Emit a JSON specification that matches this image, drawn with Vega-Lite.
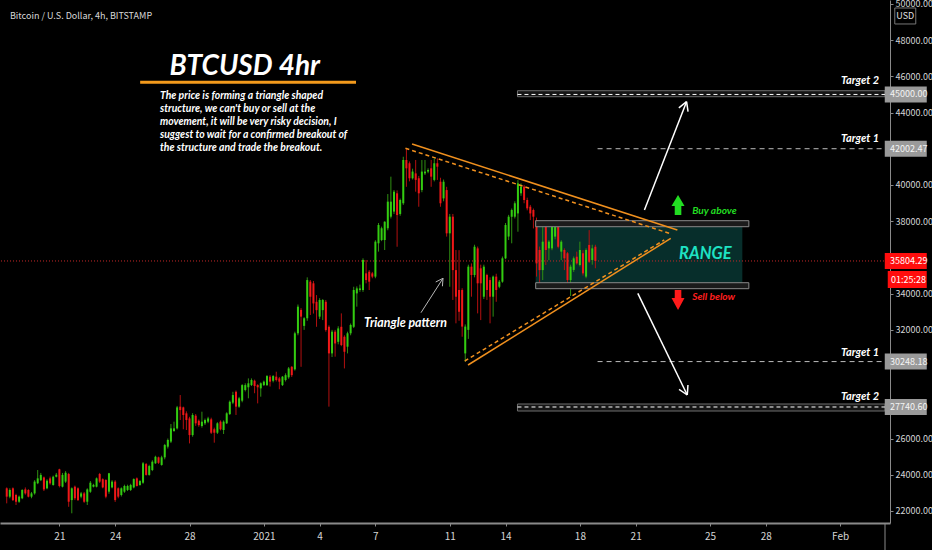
{
"$schema":"https://vega.github.io/schema/vega-lite/v6.json",
"width":890,"height":523,"autosize":"none",
"padding":{"left":0,"top":0,"right":42,"bottom":27},
"background":"#000000",
"config":{"view":{"stroke":null},"axis":{"grid":false}},
"datasets":{"candles":[
{"t":18.167,"o":23250,"h":23300,"l":22420,"c":22790},
{"t":18.333,"o":22790,"h":23250,"l":22700,"c":23160},
{"t":18.5,"o":23250,"h":23300,"l":22550,"c":22600},
{"t":18.667,"o":22880,"h":22950,"l":22330,"c":22510},
{"t":18.833,"o":22510,"h":22850,"l":22450,"c":22790},
{"t":19,"o":22700,"h":23200,"l":22650,"c":23160},
{"t":19.167,"o":23190,"h":23300,"l":22900,"c":22970},
{"t":19.333,"o":23160,"h":23200,"l":22750,"c":22790},
{"t":19.5,"o":22790,"h":23050,"l":22700,"c":22970},
{"t":19.667,"o":22970,"h":23700,"l":22900,"c":23620},
{"t":19.833,"o":23530,"h":24260,"l":23480,"c":23800},
{"t":20,"o":23700,"h":24100,"l":23650,"c":23990},
{"t":20.167,"o":23850,"h":23900,"l":23100,"c":23190},
{"t":20.333,"o":23250,"h":23750,"l":23200,"c":23670},
{"t":20.5,"o":23800,"h":23900,"l":23450,"c":23525},
{"t":20.667,"o":23430,"h":23950,"l":23400,"c":23890},
{"t":20.833,"o":23890,"h":24100,"l":23850,"c":24000},
{"t":21,"o":24300,"h":24330,"l":23300,"c":23380},
{"t":21.167,"o":23340,"h":24100,"l":23300,"c":23990},
{"t":21.333,"o":23620,"h":24200,"l":23550,"c":24110},
{"t":21.5,"o":24040,"h":24100,"l":22230,"c":22510},
{"t":21.667,"o":22600,"h":23300,"l":21870,"c":23250},
{"t":21.833,"o":23340,"h":23400,"l":22600,"c":22700},
{"t":22,"o":23250,"h":23300,"l":22550,"c":22600},
{"t":22.167,"o":22790,"h":23050,"l":22700,"c":22970},
{"t":22.333,"o":22970,"h":23050,"l":22450,"c":22510},
{"t":22.5,"o":22510,"h":23250,"l":22330,"c":23190},
{"t":22.667,"o":23060,"h":23650,"l":23000,"c":23560},
{"t":22.833,"o":23340,"h":23500,"l":23300,"c":23440},
{"t":23,"o":23340,"h":23850,"l":23300,"c":23800},
{"t":23.167,"o":24040,"h":24100,"l":23550,"c":23620},
{"t":23.333,"o":23750,"h":23800,"l":23250,"c":23300},
{"t":23.5,"o":23710,"h":23750,"l":22700,"c":22790},
{"t":23.667,"o":23065,"h":24100,"l":22950,"c":24080},
{"t":23.833,"o":23300,"h":23700,"l":23250,"c":23620},
{"t":24,"o":23620,"h":23700,"l":22500,"c":22600},
{"t":24.167,"o":23250,"h":23300,"l":22700,"c":22790},
{"t":24.333,"o":22880,"h":23300,"l":22800,"c":23250},
{"t":24.5,"o":23065,"h":23450,"l":23000,"c":23380},
{"t":24.667,"o":23160,"h":23450,"l":23100,"c":23380},
{"t":24.833,"o":23160,"h":23500,"l":23100,"c":23430},
{"t":25,"o":23300,"h":23800,"l":23250,"c":23760},
{"t":25.167,"o":23800,"h":23850,"l":23350,"c":23380},
{"t":25.333,"o":23430,"h":23700,"l":23400,"c":23650},
{"t":25.5,"o":23560,"h":24700,"l":23500,"c":24630},
{"t":25.667,"o":24590,"h":24650,"l":23950,"c":23990},
{"t":25.833,"o":23990,"h":24550,"l":23950,"c":24480},
{"t":26,"o":24260,"h":24800,"l":24200,"c":24720},
{"t":26.167,"o":24630,"h":25050,"l":24600,"c":24990},
{"t":26.333,"o":24960,"h":25000,"l":24600,"c":24660},
{"t":26.5,"o":24540,"h":25050,"l":24500,"c":24960},
{"t":26.667,"o":24960,"h":25700,"l":24850,"c":25640},
{"t":26.833,"o":25550,"h":26000,"l":25450,"c":25920},
{"t":27,"o":25830,"h":26800,"l":25750,"c":26560},
{"t":27.167,"o":26410,"h":26930,"l":26380,"c":26560},
{"t":27.333,"o":26560,"h":27800,"l":26500,"c":27720},
{"t":27.5,"o":27760,"h":28400,"l":27020,"c":27570},
{"t":27.667,"o":27720,"h":27760,"l":26510,"c":27300},
{"t":27.833,"o":27390,"h":27500,"l":26470,"c":27020},
{"t":28,"o":27110,"h":27200,"l":25730,"c":26190},
{"t":28.167,"o":26190,"h":27400,"l":26100,"c":27300},
{"t":28.333,"o":27260,"h":27350,"l":26700,"c":26840},
{"t":28.5,"o":26980,"h":27050,"l":26650,"c":26740},
{"t":28.667,"o":26690,"h":27480,"l":26600,"c":26930},
{"t":28.833,"o":26840,"h":27100,"l":26750,"c":27020},
{"t":29,"o":26930,"h":27200,"l":26850,"c":27110},
{"t":29.167,"o":27060,"h":27150,"l":26250,"c":26320},
{"t":29.333,"o":26510,"h":26600,"l":25770,"c":26320},
{"t":29.5,"o":26320,"h":26900,"l":26250,"c":26840},
{"t":29.667,"o":26930,"h":27000,"l":26450,"c":26510},
{"t":29.833,"o":26470,"h":27000,"l":26250,"c":26930},
{"t":30,"o":26840,"h":27450,"l":26800,"c":27390},
{"t":30.167,"o":27350,"h":28100,"l":27300,"c":28030},
{"t":30.333,"o":27980,"h":28580,"l":27900,"c":28400},
{"t":30.5,"o":28580,"h":28650,"l":27300,"c":27760},
{"t":30.667,"o":27760,"h":28300,"l":27700,"c":28220},
{"t":30.833,"o":28090,"h":29000,"l":28000,"c":28950},
{"t":31,"o":28680,"h":29050,"l":28600,"c":28950},
{"t":31.167,"o":28830,"h":29320,"l":28220,"c":29050},
{"t":31.333,"o":28950,"h":29320,"l":28900,"c":29230},
{"t":31.5,"o":29190,"h":29250,"l":28500,"c":28900},
{"t":31.667,"o":28950,"h":29000,"l":27940,"c":28830},
{"t":31.833,"o":28770,"h":29100,"l":28310,"c":29050},
{"t":32,"o":28950,"h":29200,"l":28900,"c":29140},
{"t":32.167,"o":28950,"h":29500,"l":28900,"c":29450},
{"t":32.333,"o":29415,"h":29500,"l":28870,"c":29140},
{"t":32.5,"o":29190,"h":29500,"l":29100,"c":29450},
{"t":32.667,"o":29415,"h":29690,"l":29150,"c":29230},
{"t":32.833,"o":29320,"h":29400,"l":28720,"c":29140},
{"t":33,"o":28950,"h":29450,"l":28900,"c":29415},
{"t":33.167,"o":29230,"h":29600,"l":29150,"c":29500},
{"t":33.333,"o":29380,"h":29950,"l":29300,"c":29870},
{"t":33.5,"o":29960,"h":30000,"l":29400,"c":29500},
{"t":33.667,"o":29820,"h":31900,"l":29750,"c":31810},
{"t":33.833,"o":31810,"h":33400,"l":31700,"c":33280},
{"t":34,"o":33100,"h":33200,"l":29960,"c":32730},
{"t":34.167,"o":32220,"h":32700,"l":32000,"c":32640},
{"t":34.333,"o":32640,"h":34900,"l":32500,"c":34750},
{"t":34.5,"o":34660,"h":34750,"l":32820,"c":33830},
{"t":34.667,"o":34570,"h":34700,"l":32900,"c":33460},
{"t":34.833,"o":33550,"h":33920,"l":32170,"c":33090},
{"t":35,"o":32730,"h":33750,"l":32600,"c":33650},
{"t":35.167,"o":33090,"h":33700,"l":32540,"c":33650},
{"t":35.333,"o":33550,"h":33650,"l":31900,"c":31990},
{"t":35.5,"o":32170,"h":32250,"l":27760,"c":30700},
{"t":35.667,"o":30700,"h":32000,"l":30500,"c":31900},
{"t":35.833,"o":31900,"h":32000,"l":30520,"c":31250},
{"t":36,"o":31340,"h":32200,"l":31200,"c":32080},
{"t":36.167,"o":32170,"h":32910,"l":31100,"c":31160},
{"t":36.333,"o":31620,"h":31700,"l":29870,"c":30790},
{"t":36.5,"o":31070,"h":31900,"l":30700,"c":31810},
{"t":36.667,"o":31810,"h":32350,"l":31700,"c":32270},
{"t":36.833,"o":32170,"h":34380,"l":32100,"c":34200},
{"t":37,"o":34015,"h":34400,"l":33280,"c":34290},
{"t":37.167,"o":34200,"h":34500,"l":34100,"c":34290},
{"t":37.333,"o":34200,"h":35950,"l":34100,"c":35860},
{"t":37.5,"o":35120,"h":35860,"l":34570,"c":34750},
{"t":37.667,"o":35210,"h":35300,"l":34200,"c":34660},
{"t":37.833,"o":35120,"h":35200,"l":34850,"c":34940},
{"t":38,"o":34940,"h":36950,"l":34850,"c":36870},
{"t":38.167,"o":36780,"h":37900,"l":36320,"c":37790},
{"t":38.333,"o":36960,"h":37700,"l":36900,"c":37610},
{"t":38.5,"o":36960,"h":38000,"l":36410,"c":37970},
{"t":38.667,"o":37610,"h":39500,"l":37500,"c":39080},
{"t":38.833,"o":38250,"h":40460,"l":38150,"c":39080},
{"t":39,"o":38530,"h":39720,"l":38400,"c":39630},
{"t":39.167,"o":39540,"h":39700,"l":36590,"c":38340},
{"t":39.333,"o":38400,"h":39250,"l":38300,"c":39170},
{"t":39.5,"o":38990,"h":41560,"l":38900,"c":41380},
{"t":39.667,"o":41380,"h":42020,"l":39900,"c":40920},
{"t":39.833,"o":41200,"h":41300,"l":40200,"c":40370},
{"t":40,"o":40370,"h":40900,"l":40300,"c":40740},
{"t":40.167,"o":40640,"h":41380,"l":39630,"c":40280},
{"t":40.333,"o":40370,"h":40500,"l":38800,"c":39540},
{"t":40.5,"o":39720,"h":41380,"l":39600,"c":40740},
{"t":40.667,"o":40640,"h":41380,"l":40550,"c":40740},
{"t":40.833,"o":40740,"h":40920,"l":40650,"c":40830},
{"t":41,"o":40920,"h":41380,"l":39900,"c":40460},
{"t":41.167,"o":40280,"h":41470,"l":40200,"c":41200},
{"t":41.333,"o":41200,"h":41470,"l":40280,"c":41010},
{"t":41.5,"o":40180,"h":40400,"l":38800,"c":38990},
{"t":41.667,"o":39260,"h":40300,"l":39100,"c":40180},
{"t":41.833,"o":39720,"h":39900,"l":37150,"c":37330},
{"t":42,"o":37330,"h":38400,"l":34380,"c":38250},
{"t":42.167,"o":38250,"h":38400,"l":33650,"c":35300},
{"t":42.333,"o":35300,"h":36410,"l":32360,"c":33830},
{"t":42.5,"o":34200,"h":36400,"l":32500,"c":33000},
{"t":42.667,"o":34200,"h":34300,"l":31620,"c":32180},
{"t":42.833,"o":30700,"h":32300,"l":30240,"c":32180},
{"t":43,"o":32000,"h":35600,"l":31500,"c":35490},
{"t":43.167,"o":35490,"h":35670,"l":33830,"c":35030},
{"t":43.333,"o":35030,"h":36700,"l":34900,"c":36590},
{"t":43.5,"o":36500,"h":36600,"l":32910,"c":34570},
{"t":43.667,"o":35400,"h":35600,"l":32540,"c":34570},
{"t":43.833,"o":33830,"h":35600,"l":33700,"c":35490},
{"t":44,"o":35030,"h":35100,"l":33650,"c":34200},
{"t":44.167,"o":34750,"h":34900,"l":32360,"c":33830},
{"t":44.333,"o":33830,"h":35000,"l":32730,"c":34940},
{"t":44.5,"o":34940,"h":35100,"l":33550,"c":34200},
{"t":44.667,"o":34380,"h":34750,"l":34300,"c":34660},
{"t":44.833,"o":34660,"h":36050,"l":34600,"c":35950},
{"t":45,"o":35950,"h":37900,"l":35900,"c":37790},
{"t":45.167,"o":37150,"h":38350,"l":36960,"c":38250},
{"t":45.333,"o":38250,"h":38700,"l":36780,"c":38620},
{"t":45.5,"o":38250,"h":39100,"l":38150,"c":38990},
{"t":45.667,"o":38430,"h":40270,"l":37420,"c":40090},
{"t":45.833,"o":39540,"h":40090,"l":39400,"c":39910},
{"t":46,"o":39910,"h":40000,"l":38990,"c":39170},
{"t":46.167,"o":39170,"h":39300,"l":38600,"c":38710},
{"t":46.333,"o":38800,"h":38900,"l":38060,"c":38430},
{"t":46.5,"o":38620,"h":38700,"l":37600,"c":38250},
{"t":46.667,"o":38060,"h":38200,"l":34940,"c":35670},
{"t":46.833,"o":36410,"h":36600,"l":34380,"c":35300},
{"t":47,"o":35300,"h":37700,"l":34750,"c":36870},
{"t":47.167,"o":37700,"h":37750,"l":35580,"c":36410},
{"t":47.333,"o":36500,"h":36950,"l":35850,"c":36870},
{"t":47.5,"o":36500,"h":37950,"l":36400,"c":37880},
{"t":47.667,"o":37150,"h":37800,"l":37000,"c":37700},
{"t":47.833,"o":37700,"h":37800,"l":36500,"c":36590},
{"t":48,"o":36320,"h":36950,"l":35850,"c":36870},
{"t":48.167,"o":36410,"h":36500,"l":35300,"c":35950},
{"t":48.333,"o":36230,"h":36300,"l":34600,"c":34750},
{"t":48.5,"o":34750,"h":35600,"l":33870,"c":35490},
{"t":48.667,"o":35310,"h":36050,"l":35200,"c":35950},
{"t":48.833,"o":36040,"h":36320,"l":35600,"c":35670},
{"t":49,"o":35580,"h":36870,"l":35500,"c":36410},
{"t":49.167,"o":36230,"h":36400,"l":35000,"c":35120},
{"t":49.333,"o":34940,"h":36500,"l":34850,"c":36410},
{"t":49.5,"o":36690,"h":37510,"l":35700,"c":35760},
{"t":49.667,"o":35860,"h":36700,"l":35600,"c":36500},
{"t":49.833,"o":36590,"h":36700,"l":35400,"c":35804}
]},
"layer":[
{"data":{"values":[{"x1":46.622,"x2":57.739,"y1":38028,"y2":34273}]},
 "mark":{"type":"rect","fill":"#072e2b"},
 "encoding":{"x":{"field":"x1","type":"quantitative","scale":{"domain":[18.074,65.414],"nice":false,"zero":false}},"x2":{"field":"x2"},
  "y":{"field":"y1","type":"quantitative","scale":{"domain":[21335,50215],"nice":false,"zero":false}},"y2":{"field":"y2"}}},
{"data":{"values":[{"p":35804.29}]},
 "mark":{"type":"rule","color":"#c62828","strokeDash":[1,2],"strokeWidth":1},
 "encoding":{"y":{"field":"p","type":"quantitative","scale":{"domain":[21335,50215],"nice":false,"zero":false}}}},
{"data":{"name":"candles"},
 "mark":{"type":"rule","strokeWidth":1},
 "encoding":{"x":{"field":"t","type":"quantitative","scale":{"domain":[18.074,65.414],"nice":false,"zero":false}},
  "y":{"field":"l","type":"quantitative","scale":{"domain":[21335,50215],"nice":false,"zero":false}},"y2":{"field":"h"},
  "color":{"condition":{"test":"datum.c >= datum.o","value":"#2f8f12"},"value":"#b31010"}}},
{"data":{"name":"candles"},
 "mark":{"type":"bar","size":2},
 "encoding":{"x":{"field":"t","type":"quantitative","scale":{"domain":[18.074,65.414],"nice":false,"zero":false},
   "axis":{"values":[21,24,28,32,35,38,42,45,49,52,56,59,63],"labelExpr":"datum.value == 32 ? '2021' : datum.value == 63 ? 'Feb' : datum.value > 31 ? format(datum.value - 31, 'd') : format(datum.value, 'd')","title":null,"domainColor":"#8a8a8a","domainWidth":2,"tickColor":"#8a8a8a","tickSize":3,"labelColor":"#d6d6d6","labelFontSize":10,"labelFont":"Noto Sans CJK SC","labelPadding":5,"labelFlush":false,"labelOverlap":false,"grid":false}},
  "y":{"field":"o","type":"quantitative","scale":{"domain":[21335,50215],"nice":false,"zero":false},
   "axis":{"orient":"right","values":[22000,24000,26000,32000,34000,38000,40000,44000,46000,48000,50000],"format":".2f","title":null,"domainColor":"#8a8a8a","tickColor":"#8a8a8a","tickSize":3,"labelPadding":2,"labelColor":"#d6d6d6","labelFontSize":9,"labelFont":"Noto Sans CJK SC","labelFlush":false,"labelOverlap":false,"grid":false}},
  "y2":{"field":"c"},
  "color":{"condition":{"test":"datum.c >= datum.o","value":"#33cc11"},"value":"#f01818"}}},
{"data":{"values":[{"x1":46.622,"x2":58.09,"y1":38028,"y2":37696},{"x1":46.622,"x2":58.09,"y1":34604,"y2":34273}]},
 "mark":{"type":"rect","fill":"#1b1b1b","stroke":"#8a8a8a","strokeWidth":1},
 "encoding":{"x":{"field":"x1","type":"quantitative","scale":{"domain":[18.074,65.414],"nice":false,"zero":false}},"x2":{"field":"x2"},
  "y":{"field":"y1","type":"quantitative","scale":{"domain":[21335,50215],"nice":false,"zero":false}},"y2":{"field":"y2"}}},
{"data":{"values":[{"x1":39.973,"y1":42263,"x2":54.245,"y2":37514},{"x1":42.984,"y1":30060,"x2":53.888,"y2":37056}]},
 "mark":{"type":"rule","color":"#f0901e","strokeWidth":1.5},
 "encoding":{"x":{"field":"x1","type":"quantitative","scale":{"domain":[18.074,65.414],"nice":false,"zero":false}},"x2":{"field":"x2"},
  "y":{"field":"y1","type":"quantitative","scale":{"domain":[21335,50215],"nice":false,"zero":false}},"y2":{"field":"y2"}}},
{"data":{"values":[{"x1":39.616,"y1":42026,"x2":53.803,"y2":37332},{"x1":42.808,"y1":30281,"x2":53.537,"y2":36962}]},
 "mark":{"type":"rule","color":"#f0901e","strokeWidth":1.5,"strokeDash":[4,3]},
 "encoding":{"x":{"field":"x1","type":"quantitative","scale":{"domain":[18.074,65.414],"nice":false,"zero":false}},"x2":{"field":"x2"},
  "y":{"field":"y1","type":"quantitative","scale":{"domain":[21335,50215],"nice":false,"zero":false}},"y2":{"field":"y2"}}},
{"data":{"values":[{"x1":45.643,"x2":65.414,"y1":45206,"y2":44875},{"x1":45.643,"x2":65.414,"y1":27906,"y2":27519}]},
 "mark":{"type":"rect","fill":"#151515","stroke":"#6e6e6e","strokeWidth":1},
 "encoding":{"x":{"field":"x1","type":"quantitative","scale":{"domain":[18.074,65.414],"nice":false,"zero":false}},"x2":{"field":"x2"},
  "y":{"field":"y1","type":"quantitative","scale":{"domain":[21335,50215],"nice":false,"zero":false}},"y2":{"field":"y2"}}},
{"data":{"values":[{"x1":45.643,"x2":65.414,"p":45000},{"x1":45.643,"x2":65.414,"p":27740.6}]},
 "mark":{"type":"rule","color":"#ffffff","strokeWidth":1,"strokeDash":[4,3]},
 "encoding":{"x":{"field":"x1","type":"quantitative","scale":{"domain":[18.074,65.414],"nice":false,"zero":false}},"x2":{"field":"x2"},
  "y":{"field":"p","type":"quantitative","scale":{"domain":[21335,50215],"nice":false,"zero":false}}}},
{"data":{"values":[{"x1":49.952,"x2":65.414,"p":42002.47},{"x1":49.952,"x2":65.414,"p":30248.18}]},
 "mark":{"type":"rule","color":"#bdbdbd","strokeWidth":1,"strokeDash":[5,4]},
 "encoding":{"x":{"field":"x1","type":"quantitative","scale":{"domain":[18.074,65.414],"nice":false,"zero":false}},"x2":{"field":"x2"},
  "y":{"field":"p","type":"quantitative","scale":{"domain":[21335,50215],"nice":false,"zero":false}}}},
{"data":{"values":[
  {"x1":52.472,"y1":38619,"x2":54.739,"y2":44599},{"x1":54.739,"y1":44599,"x2":54.325,"y2":44257},{"x1":54.739,"y1":44599,"x2":54.819,"y2":44052},
  {"x1":52.117,"y1":34019,"x2":54.777,"y2":28403},{"x1":54.777,"y1":28403,"x2":54.814,"y2":28955},{"x1":54.777,"y1":28403,"x2":54.335,"y2":28712}]},
 "mark":{"type":"rule","color":"#ffffff","strokeWidth":1.5},
 "encoding":{"x":{"field":"x1","type":"quantitative","scale":{"domain":[18.074,65.414],"nice":false,"zero":false}},"x2":{"field":"x2"},
  "y":{"field":"y1","type":"quantitative","scale":{"domain":[21335,50215],"nice":false,"zero":false}},"y2":{"field":"y2"}}},
{"data":{"values":[
  {"x1":40.452,"y1":32948,"x2":41.638,"y2":34848},{"x1":41.638,"y1":34848,"x2":41.244,"y2":34643},{"x1":41.638,"y1":34848,"x2":41.606,"y2":34406}]},
 "mark":{"type":"rule","color":"#b8b8b8","strokeWidth":1},
 "encoding":{"x":{"field":"x1","type":"quantitative","scale":{"domain":[18.074,65.414],"nice":false,"zero":false}},"x2":{"field":"x2"},
  "y":{"field":"y1","type":"quantitative","scale":{"domain":[21335,50215],"nice":false,"zero":false}},"y2":{"field":"y2"}}},
{"data":{"values":[{"x1":25.345,"x2":36.957,"p":45670}]},
 "mark":{"type":"rule","color":"#f39a1c","strokeWidth":3},
 "encoding":{"x":{"field":"x1","type":"quantitative","scale":{"domain":[18.074,65.414],"nice":false,"zero":false}},"x2":{"field":"x2"},
  "y":{"field":"p","type":"quantitative","scale":{"domain":[21335,50215],"nice":false,"zero":false}}}},
{"data":{"values":[{"x":54.28,"y":38895}]},
 "mark":{"type":"point","shape":"M0,-1L0.65,0.1L0.33,0.1L0.33,1L-0.33,1L-0.33,0.1L-0.65,0.1Z","size":400,"filled":true,"color":"#22dd22","opacity":1,"strokeWidth":0},
 "encoding":{"x":{"field":"x","type":"quantitative","scale":{"domain":[18.074,65.414],"nice":false,"zero":false}},
  "y":{"field":"y","type":"quantitative","scale":{"domain":[21335,50215],"nice":false,"zero":false}}}},
{"data":{"values":[{"x":54.28,"y":33649}]},
 "mark":{"type":"point","shape":"M0,1L0.65,-0.2L0.33,-0.2L0.33,-1L-0.33,-1L-0.33,-0.2L-0.65,-0.2Z","size":400,"filled":true,"color":"#ff1a1a","opacity":1,"strokeWidth":0},
 "encoding":{"x":{"field":"x","type":"quantitative","scale":{"domain":[18.074,65.414],"nice":false,"zero":false}},
  "y":{"field":"y","type":"quantitative","scale":{"domain":[21335,50215],"nice":false,"zero":false}}}},
{"data":{"values":[{"x":18.34,"y":49348,"s":"Bitcoin / U.S. Dollar, 4h, BITSTAMP"}]},
 "mark":{"type":"text","align":"left","baseline":"middle","fontSize":9,"color":"#d8d8d8","font":"Noto Sans CJK SC"},
 "encoding":{"x":{"field":"x","type":"quantitative","scale":{"domain":[18.074,65.414],"nice":false,"zero":false}},
  "y":{"field":"y","type":"quantitative","scale":{"domain":[21335,50215],"nice":false,"zero":false}},"text":{"field":"s"}}},
{"data":{"values":[{"x":30.973,"y":46074,"s":"BTCUSD 4hr"}]},
 "mark":{"type":"text","align":"center","baseline":"alphabetic","fontSize":28,"fontWeight":"bold","fontStyle":"italic","color":"#ffffff","font":"Lato"},
 "encoding":{"x":{"field":"x","type":"quantitative","scale":{"domain":[18.074,65.414],"nice":false,"zero":false}},
  "y":{"field":"y","type":"quantitative","scale":{"domain":[21335,50215],"nice":false,"zero":false}},"text":{"field":"s"}}},
{"data":{"values":[{"x":26.41,"y":45190,"s":"The price is forming a triangle shaped\nstructure, we can't buy or sell at the\nmovement, it will be very risky decision, I\nsuggest to wait for a confirmed breakout of\nthe structure and trade the breakout."}]},
 "mark":{"type":"text","align":"left","baseline":"top","lineBreak":"\n","lineHeight":13,"fontSize":10.4,"fontWeight":"bold","fontStyle":"italic","color":"#ffffff","font":"Lato"},
 "encoding":{"x":{"field":"x","type":"quantitative","scale":{"domain":[18.074,65.414],"nice":false,"zero":false}},
  "y":{"field":"y","type":"quantitative","scale":{"domain":[21335,50215],"nice":false,"zero":false}},"text":{"field":"s"}}},
{"data":{"values":[{"x":39.617,"y":32396,"s":"Triangle pattern"}]},
 "mark":{"type":"text","align":"center","baseline":"middle","fontSize":12.4,"fontWeight":"bold","fontStyle":"italic","color":"#ffffff","font":"Lato"},
 "encoding":{"x":{"field":"x","type":"quantitative","scale":{"domain":[18.074,65.414],"nice":false,"zero":false}},
  "y":{"field":"y","type":"quantitative","scale":{"domain":[21335,50215],"nice":false,"zero":false}},"text":{"field":"s"}}},
{"data":{"values":[{"x":55.75,"y":36189,"s":"RANGE"}]},
 "mark":{"type":"text","align":"center","baseline":"middle","fontSize":16.5,"fontWeight":"bold","fontStyle":"italic","color":"#1ee3c4","font":"Lato"},
 "encoding":{"x":{"field":"x","type":"quantitative","scale":{"domain":[18.074,65.414],"nice":false,"zero":false}},
  "y":{"field":"y","type":"quantitative","scale":{"domain":[21335,50215],"nice":false,"zero":false}},"text":{"field":"s"}}},
{"data":{"values":[{"x":55.04,"y":38564,"s":"Buy above"}]},
 "mark":{"type":"text","align":"left","baseline":"middle","fontSize":10.2,"fontWeight":"bold","fontStyle":"italic","color":"#22dd22","font":"Lato"},
 "encoding":{"x":{"field":"x","type":"quantitative","scale":{"domain":[18.074,65.414],"nice":false,"zero":false}},
  "y":{"field":"y","type":"quantitative","scale":{"domain":[21335,50215],"nice":false,"zero":false}},"text":{"field":"s"}}},
{"data":{"values":[{"x":55.04,"y":33831,"s":"Sell below"}]},
 "mark":{"type":"text","align":"left","baseline":"middle","fontSize":10.2,"fontWeight":"bold","fontStyle":"italic","color":"#ff1f1f","font":"Lato"},
 "encoding":{"x":{"field":"x","type":"quantitative","scale":{"domain":[18.074,65.414],"nice":false,"zero":false}},
  "y":{"field":"y","type":"quantitative","scale":{"domain":[21335,50215],"nice":false,"zero":false}},"text":{"field":"s"}}},
{"data":{"values":[{"x":65.095,"y":45577,"s":"Target 2"},{"x":65.095,"y":42374,"s":"Target 1"},{"x":65.095,"y":30557,"s":"Target 1"},{"x":65.095,"y":28154,"s":"Target 2"}]},
 "mark":{"type":"text","align":"right","baseline":"alphabetic","fontSize":11,"fontWeight":"bold","fontStyle":"italic","color":"#ffffff","font":"Lato"},
 "encoding":{"x":{"field":"x","type":"quantitative","scale":{"domain":[18.074,65.414],"nice":false,"zero":false}},
  "y":{"field":"y","type":"quantitative","scale":{"domain":[21335,50215],"nice":false,"zero":false}},"text":{"field":"s"}}},
{"data":{"values":[{"x":65.414,"y1":21335,"y2":19844}]},
 "mark":{"type":"rule","color":"#8a8a8a","strokeWidth":1},
 "encoding":{"x":{"field":"x","type":"quantitative","scale":{"domain":[18.074,65.414],"nice":false,"zero":false}},
  "y":{"field":"y1","type":"quantitative","scale":{"domain":[21335,50215],"nice":false,"zero":false}},"y2":{"field":"y2"}}},
{"data":{"values":[{"x":66.531,"p":45000},{"x":66.531,"p":42002.47},{"x":66.531,"p":30248.18},{"x":66.531,"p":27740.6}]},
 "mark":{"type":"point","shape":"M-1,-0.381H1V0.381H-1Z","size":1764,"filled":true,"color":"#9a9a9a","opacity":1,"strokeWidth":0},
 "encoding":{"x":{"field":"x","type":"quantitative","scale":{"domain":[18.074,65.414],"nice":false,"zero":false}},
  "y":{"field":"p","type":"quantitative","scale":{"domain":[21335,50215],"nice":false,"zero":false}}}},
{"data":{"values":[{"x":66.531,"p":35804.29}]},
 "mark":{"type":"point","shape":"M-1,-0.381H1V0.381H-1Z","size":1764,"filled":true,"color":"#ff0d0d","opacity":1,"strokeWidth":0},
 "encoding":{"x":{"field":"x","type":"quantitative","scale":{"domain":[18.074,65.414],"nice":false,"zero":false}},
  "y":{"field":"p","type":"quantitative","scale":{"domain":[21335,50215],"nice":false,"zero":false}}}},
{"data":{"values":[{"x":66.611,"p":34781}]},
 "mark":{"type":"point","shape":"M-1,-0.436H1V0.436H-1Z","size":1521,"filled":true,"color":"#ff0d0d","opacity":1,"strokeWidth":0},
 "encoding":{"x":{"field":"x","type":"quantitative","scale":{"domain":[18.074,65.414],"nice":false,"zero":false}},
  "y":{"field":"p","type":"quantitative","scale":{"domain":[21335,50215],"nice":false,"zero":false}}}},
{"data":{"values":[{"x":65.68,"p":45000,"s":"45000.00"},{"x":65.68,"p":42002.47,"s":"42002.47"},{"x":65.68,"p":30248.18,"s":"30248.18"},{"x":65.68,"p":27740.6,"s":"27740.60"}]},
 "mark":{"type":"text","align":"left","baseline":"middle","fontSize":9,"color":"#f4f4f4","font":"Noto Sans CJK SC"},
 "encoding":{"x":{"field":"x","type":"quantitative","scale":{"domain":[18.074,65.414],"nice":false,"zero":false}},
  "y":{"field":"p","type":"quantitative","scale":{"domain":[21335,50215],"nice":false,"zero":false}},"text":{"field":"s"}}},
{"data":{"values":[{"x":65.68,"p":35804.29,"s":"35804.29"},{"x":65.734,"p":34781,"s":"01:25:28"}]},
 "mark":{"type":"text","align":"left","baseline":"middle","fontSize":9,"color":"#ffffff","font":"Noto Sans CJK SC"},
 "encoding":{"x":{"field":"x","type":"quantitative","scale":{"domain":[18.074,65.414],"nice":false,"zero":false}},
  "y":{"field":"p","type":"quantitative","scale":{"domain":[21335,50215],"nice":false,"zero":false}},"text":{"field":"s"}}},
{"data":{"values":[{"x":66.505,"y":49332}]},
 "mark":{"type":"point","shape":"M-1,-0.76H1V0.76H-1Z","size":441,"filled":false,"stroke":"#777777","strokeWidth":1,"opacity":1},
 "encoding":{"x":{"field":"x","type":"quantitative","scale":{"domain":[18.074,65.414],"nice":false,"zero":false}},
  "y":{"field":"y","type":"quantitative","scale":{"domain":[21335,50215],"nice":false,"zero":false}}}},
{"data":{"values":[{"x":66.505,"y":49332,"s":"USD"}]},
 "mark":{"type":"text","align":"center","baseline":"middle","fontSize":9,"color":"#e0e0e0","font":"Noto Sans CJK SC"},
 "encoding":{"x":{"field":"x","type":"quantitative","scale":{"domain":[18.074,65.414],"nice":false,"zero":false}},
  "y":{"field":"y","type":"quantitative","scale":{"domain":[21335,50215],"nice":false,"zero":false}},"text":{"field":"s"}}}
]
}
